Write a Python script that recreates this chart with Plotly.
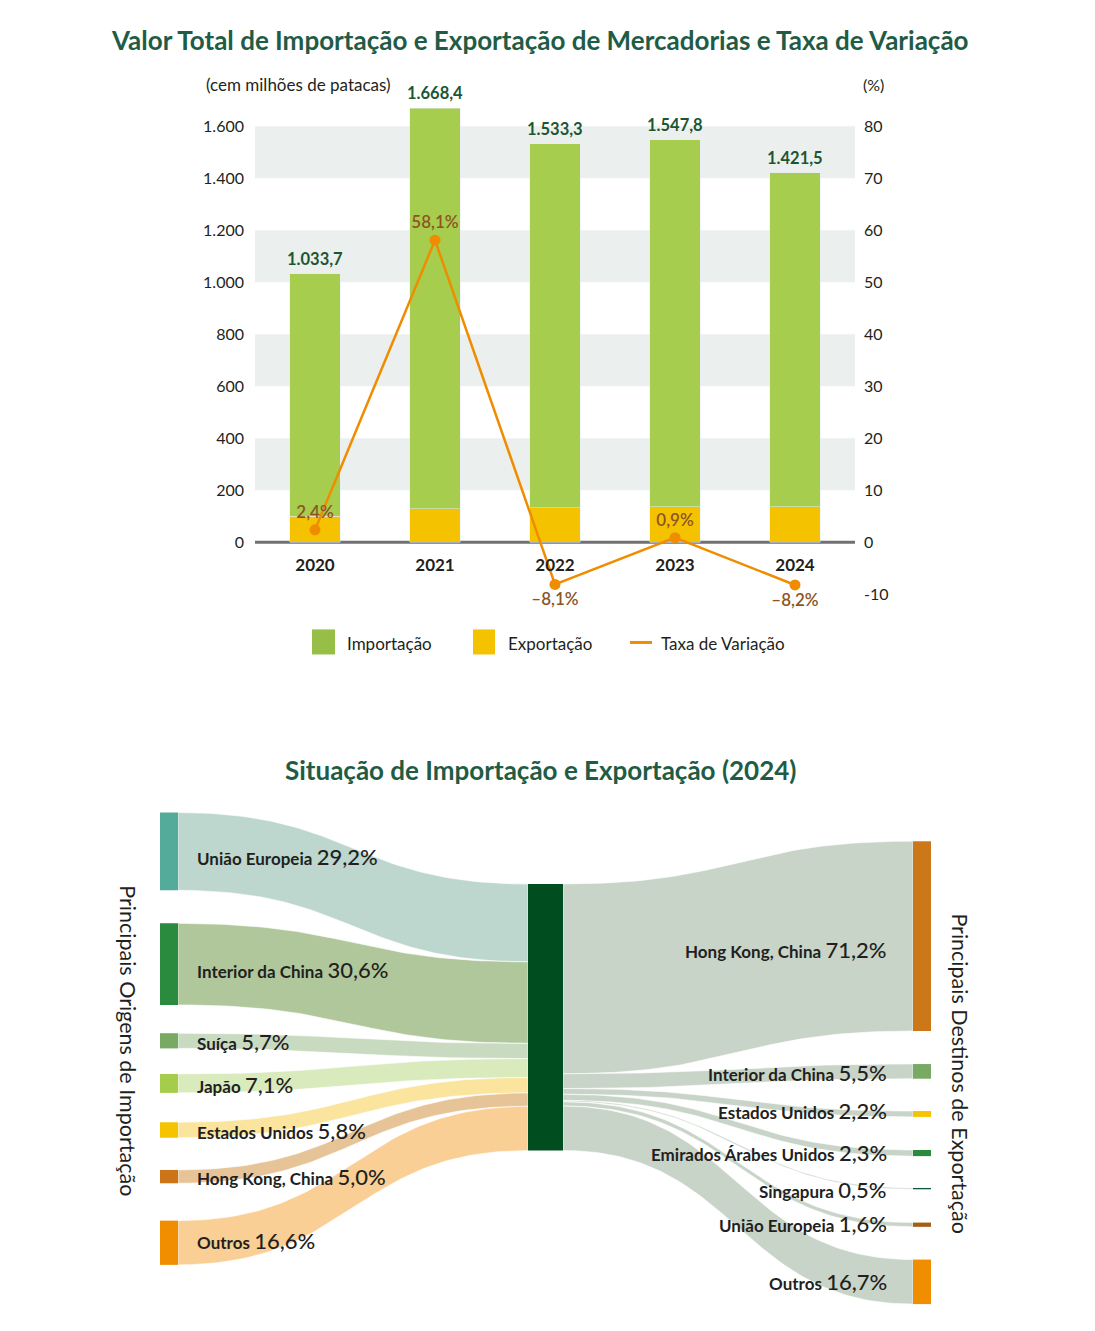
import numpy as np
import plotly.graph_objects as go

# ---------------- data ----------------
years = ["2020", "2021", "2022", "2023", "2024"]
import_values = [932.7, 1539.4, 1400.3, 1410.8, 1284.5]
export_values = [101.0, 129.0, 133.0, 137.0, 137.0]
total_values = [1033.7, 1668.4, 1533.3, 1547.8, 1421.5]
total_labels = ["1.033,7", "1.668,4", "1.533,3", "1.547,8", "1.421,5"]
rate_values = [2.4, 58.1, -8.1, 0.9, -8.2]
rate_labels = ["2,4%", "58,1%", "–8,1%", "0,9%", "–8,2%"]

left_ticks = [0, 200, 400, 600, 800, 1000, 1200, 1400, 1600]
left_tick_labels = ["0", "200", "400", "600", "800", "1.000", "1.200", "1.400", "1.600"]
right_ticks = [-10, 0, 10, 20, 30, 40, 50, 60, 70, 80]
right_tick_labels = ["-10", "0", "10", "20", "30", "40", "50", "60", "70", "80"]

origin_names = ["União Europeia", "Interior da China", "Suíça", "Japão",
                "Estados Unidos", "Hong Kong, China", "Outros"]
origin_shares = [29.2, 30.6, 5.7, 7.1, 5.8, 5.0, 16.6]
origin_share_labels = ["29,2%", "30,6%", "5,7%", "7,1%", "5,8%", "5,0%", "16,6%"]

dest_names = ["Hong Kong, China", "Interior da China", "Estados Unidos",
              "Emirados Árabes Unidos", "Singapura", "União Europeia", "Outros"]
dest_shares = [71.2, 5.5, 2.2, 2.3, 0.5, 1.6, 16.7]
dest_share_labels = ["71,2%", "5,5%", "2,2%", "2,3%", "0,5%", "1,6%", "16,7%"]

# ---------------- styles / layout ----------------
W, H = 1095, 1331
OX, OY = 8, 8                      # page body margin
FW, FH = W - 2 * OX, H - 2 * OY    # figure size
YS = 1 / 0.991                     # vertical correction factor
F = "Lato"
DARK = "#231f20"
TITLE_C = "#1f5c45"
C_IMP = "#a6cd4e"
C_EXP = "#f5c200"
C_RATE = "#f08c00"
C_RATE_TXT = "#8d5524"
C_TOT_TXT = "#1b5633"

origin_node_colors = ["#55ab9a", "#2a8a3e", "#78aa64", "#a6cc4c", "#f5c300", "#cc7518", "#f08e00"]
origin_link_colors = ["#bdd7cf", "#b0c79c", "#c8dbc0", "#d9eabc", "#fae49e", "#e7c497", "#f9cf96"]
dest_node_colors = ["#cd7818", "#78aa64", "#f5c300", "#2a8a3e", "#0e5a3a", "#a35f16", "#f08e00"]
dest_link_color = "#c8d4c8"
mid_color = "#004d20"

origin_centers = [849.5, 962, 1038.5, 1081, 1127.5, 1174, 1240]
dest_centers = [934, 1069, 1111.5, 1150.5, 1186, 1222, 1279]
origin_label_y = [855, 967, 1039, 1082, 1128, 1174, 1238]
dest_label_y = [947, 1070, 1108, 1150, 1187, 1221, 1279]
K = 2.66  # px per percent
MID_TOP = 882
XL0, XL1 = 160, 178
XM0, XM1 = 528, 563
XR0, XR1 = 913, 931


def px(x):
    return (x - OX) / FW


def py(y):
    return 1 - (y * YS - OY) / FH


fig = go.Figure()

# ---------------- bar + line chart ----------------
fig.add_trace(go.Bar(x=years, y=export_values, name="Exportação", marker_color=C_EXP,
                     width=0.42, hoverinfo="skip"))
fig.add_trace(go.Bar(x=years, y=import_values, name="Importação", marker_color=C_IMP,
                     width=0.42, hoverinfo="skip"))
fig.add_trace(go.Scatter(x=years, y=rate_values, yaxis="y2", mode="lines+markers+text",
                         line=dict(color=C_RATE, width=2.5),
                         marker=dict(size=11, color=C_RATE),
                         text=rate_labels, cliponaxis=False,
                         textposition=["top center", "top center", "bottom center",
                                       "top center", "bottom center"],
                         textfont=dict(family=F, size=17, color=C_RATE_TXT, weight=600),
                         hoverinfo="skip"))

shapes = []
for lo in [200, 600, 1000, 1400]:
    shapes.append(dict(type="rect", xref="x domain", yref="y", x0=0, x1=1, y0=lo, y1=lo + 200,
                       fillcolor="#ebefed", line_width=0, layer="below"))
shapes.append(dict(type="line", xref="x domain", yref="y", x0=0, x1=1, y0=0, y1=0,
                   line=dict(color="#707070", width=3), layer="below"))

# legend (manual)
shapes.append(dict(type="rect", xref="paper", yref="paper", x0=px(312), x1=px(335),
                   y0=py(653), y1=py(628), fillcolor="#97bf47", line_width=0))
shapes.append(dict(type="rect", xref="paper", yref="paper", x0=px(473), x1=px(495),
                   y0=py(653), y1=py(628), fillcolor=C_EXP, line_width=0))
shapes.append(dict(type="line", xref="paper", yref="paper", x0=px(630), x1=px(652),
                   y0=py(641), y1=py(641), line=dict(color=C_RATE, width=3)))

annotations = []


def ann(text, x, y, size, color=DARK, xanchor="center", weight=400, angle=0, ref="paper"):
    if ref == "paper":
        d = dict(xref="paper", yref="paper", x=px(x), y=py(y))
    else:
        d = dict(xref="x3", yref="y3", x=x, y=y)
    d.update(text=text, showarrow=False, xanchor=xanchor, yanchor="middle", textangle=angle,
             font=dict(family=F, size=size, color=color, weight=weight))
    annotations.append(d)


# total value labels above bars (x given as category index)
for i, (tv, tl) in enumerate(zip(total_values, total_labels)):
    annotations.append(dict(x=i, y=tv, xref="x", yref="y", text=tl, showarrow=False,
                            xanchor="center", yanchor="middle", yshift=15,
                            font=dict(family=F, size=16.5, color=C_TOT_TXT, weight=700)))

ann("Importação", 345, 642, 17, xanchor="left")
ann("Exportação", 506, 642, 17, xanchor="left")
ann("Taxa de Variação", 659, 642, 17, xanchor="left")

ann("Valor Total de Importação e Exportação de Mercadorias e Taxa de Variação", 540, 40, 26,
    color=TITLE_C, weight=700)
ann("(cem milhões de patacas)", 298, 84, 17)
ann("(%)", 873, 84, 16)

# ---------------- sankey (manual) ----------------
def band(xa, xb, a0, a1, b0, b1, n=80):
    t = np.linspace(0, 1, n)
    xm = (xa + xb) / 2
    x = (1 - t) ** 3 * xa + 3 * (1 - t) ** 2 * t * xm + 3 * (1 - t) * t ** 2 * xm + t ** 3 * xb
    s = 3 * t ** 2 - 2 * t ** 3
    top = a0 + (b0 - a0) * s
    bot = a1 + (b1 - a1) * s
    return np.concatenate([x, x[::-1], [x[0]]]), np.concatenate([top, bot[::-1], [top[0]]])


def rect(x0, x1, y0, y1):
    return [x0, x1, x1, x0, x0], [y0, y0, y1, y1, y0]


# left links
cum = MID_TOP
for i, s in enumerate(origin_shares):
    h = s * K
    a0 = origin_centers[i] - h / 2
    bx, by = band(XL1, XM0, a0, a0 + h, cum, cum + h)
    fig.add_trace(go.Scatter(x=bx, y=by, xaxis="x3", yaxis="y3", mode="lines", fill="toself",
                             fillcolor=origin_link_colors[i], line=dict(color="white", width=0.6),
                             hoverinfo="skip"))
    cum += h

# right links
cum = MID_TOP
for i, s in enumerate(dest_shares):
    h = s * K
    b0 = dest_centers[i] - h / 2
    bx, by = band(XM1, XR0, cum, cum + h, b0, b0 + h)
    fig.add_trace(go.Scatter(x=bx, y=by, xaxis="x3", yaxis="y3", mode="lines", fill="toself",
                             fillcolor=dest_link_color, line=dict(color="white", width=0.6),
                             hoverinfo="skip"))
    cum += h

# nodes
for i, s in enumerate(origin_shares):
    h = s * K
    rx, ry = rect(XL0, XL1, origin_centers[i] - h / 2, origin_centers[i] + h / 2)
    fig.add_trace(go.Scatter(x=rx, y=ry, xaxis="x3", yaxis="y3", mode="lines", fill="toself",
                             fillcolor=origin_node_colors[i], line=dict(width=0),
                             hoverinfo="skip"))
rx, ry = rect(XM0, XM1, MID_TOP, MID_TOP + sum(origin_shares) * K)
fig.add_trace(go.Scatter(x=rx, y=ry, xaxis="x3", yaxis="y3", mode="lines", fill="toself",
                         fillcolor=mid_color, line=dict(width=0), hoverinfo="skip"))
for i, s in enumerate(dest_shares):
    h = s * K
    rx, ry = rect(XR0, XR1, dest_centers[i] - h / 2, dest_centers[i] + h / 2)
    fig.add_trace(go.Scatter(x=rx, y=ry, xaxis="x3", yaxis="y3", mode="lines", fill="toself",
                             fillcolor=dest_node_colors[i], line=dict(width=0),
                             hoverinfo="skip"))

for i, name in enumerate(origin_names):
    ann(f"<b>{name}</b> <span style='font-size:22px;font-weight:500'>{origin_share_labels[i]}</span>",
        195, origin_label_y[i], 17, xanchor="left", ref="x3")
for i, name in enumerate(dest_names):
    ann(f"<b>{name}</b> <span style='font-size:22px;font-weight:500'>{dest_share_labels[i]}</span>",
        889, dest_label_y[i], 17, xanchor="right", ref="x3")

ann("Situação de Importação e Exportação (2024)", 540, 768, 26, color=TITLE_C, weight=700)
ann("Principais Origens de Importação", 128, 1038, 21.5, angle=90)
ann("Principais Destinos de Exportação", 960, 1071, 21.5, angle=90)

fig.update_layout(
    width=FW, height=FH, margin=dict(l=0, r=0, t=0, b=0),
    paper_bgcolor="white", plot_bgcolor="rgba(0,0,0,0)",
    showlegend=False, barmode="stack", bargap=0.5,
    shapes=shapes, annotations=annotations,
    xaxis=dict(domain=[px(255), px(855)], type="category", range=[-0.5, 4.5],
               anchor="free", position=py(541),
               showline=False, showgrid=False, zeroline=False, ticks="", ticklabelstandoff=11,
               tickfont=dict(family=F, size=17, color=DARK, weight=700)),
    yaxis=dict(domain=[py(593), py(87)], range=[-200, 1750], tickvals=left_ticks,
               ticktext=left_tick_labels, showgrid=False, zeroline=False, showline=False,
               ticks="", ticklabelstandoff=10, tickfont=dict(family=F, size=16, color=DARK)),
    yaxis2=dict(overlaying="y", side="right", anchor="x", range=[-10, 87.5],
                tickvals=right_ticks, ticktext=right_tick_labels, showgrid=False,
                zeroline=False, showline=False, ticks="", ticklabelstandoff=8,
                tickfont=dict(family=F, size=16, color=DARK)),
    xaxis3=dict(domain=[0, 1], range=[OX, OX + FW], visible=False, anchor="y3"),
    yaxis3=dict(domain=[0, py(700)], range=[(OY + FH) / YS, 700], visible=False, anchor="x3"),
)

fig.write_html("out.html")
